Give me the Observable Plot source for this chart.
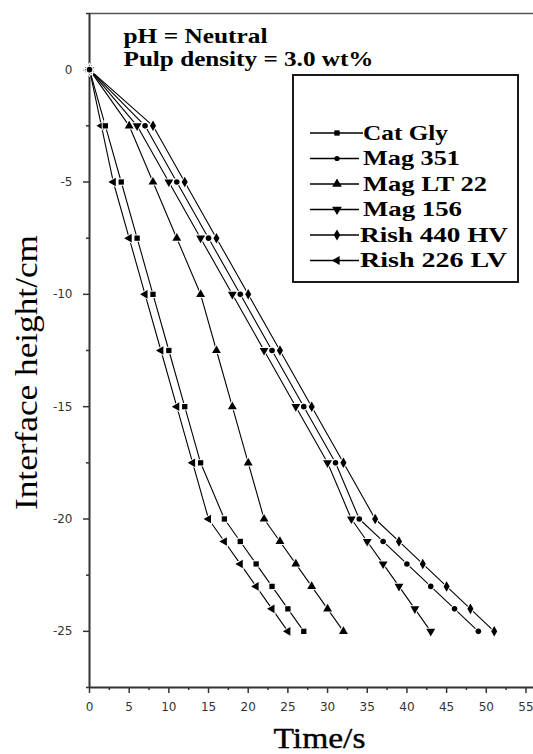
<!DOCTYPE html>
<html>
<head>
<meta charset="utf-8">
<script src="https://cdn.jsdelivr.net/npm/d3@7"></script>
<script src="https://cdn.jsdelivr.net/npm/@observablehq/plot@0.6"></script>
<style>
  html, body { margin: 0; padding: 0; background: white; }
  #wrap { position: relative; width: 533px; height: 754px; }
  #wrap svg { position: absolute; left: 0; top: 0; }
</style>
</head>
<body>
<div id="wrap"></div>
<script>
// ---- data ----
const seriesNames = ["Cat Gly", "Mag 351", "Mag LT 22", "Mag 156", "Rish 440 HV", "Rish 226 LV"];
const heights = [0, -2.5, -5, -7.5, -10, -12.5, -15, -17.5, -20, -21, -22, -23, -24, -25];
const catGly   = [0, 2,   4,  6,  8, 10, 12, 14, 17, 19, 21, 23, 25, 27];
const mag351   = [0, 7,  11, 15, 19, 23, 27, 31, 34, 37, 40, 43, 46, 49];
const magLT22  = [0, 5,   8, 11, 14, 16, 18, 20, 22, 24, 26, 28, 30, 32];
const mag156   = [0, 6,  10, 14, 18, 22, 26, 30, 33, 35, 37, 39, 41, 43];
const rish440  = [0, 8,  12, 16, 20, 24, 28, 32, 36, 39, 42, 45, 48, 51];
const rish226  = [0, 1.5, 3,  5,  7,  9, 11, 13, 15, 17, 19, 21, 23, 25];
const times = [catGly, mag351, magLT22, mag156, rish440, rish226];

const xTicks = [0, 5, 10, 15, 20, 25, 30, 35, 40, 45, 50, 55];
const xMinor = [2.5, 7.5, 12.5, 17.5, 22.5, 27.5, 32.5, 37.5, 42.5, 47.5, 52.5];
const yTicks = [0, -5, -10, -15, -20, -25];
const yMinor = [2.5, -2.5, -7.5, -12.5, -17.5, -22.5, -27.5];

const titleLines = ["pH = Neutral", "Pulp density = 3.0 wt%"];
const xLabel = "Time/s";
const yLabel = "Interface height/cm";

// ---- marker styles ----
const symbolOf = {"Cat Gly": "square", "Mag 351": "circle", "Mag LT 22": "triangle",
                  "Mag 156": "triangle", "Rish 440 HV": "diamond", "Rish 226 LV": "triangle"};
const rotateOf = {"Cat Gly": 0, "Mag 351": 0, "Mag LT 22": 0, "Mag 156": 180, "Rish 440 HV": 0, "Rish 226 LV": -90};
const rOf = {"Cat Gly": 3.0, "Mag 351": 2.6, "Mag LT 22": 3.6, "Mag 156": 3.6, "Rish 440 HV": 3.4, "Rish 226 LV": 3.4};

const data = [];
seriesNames.forEach((s, i) => heights.forEach((h, j) => data.push({series: s, t: times[i][j], h})));

const serif = "'Liberation Serif', 'Times New Roman', serif";

const svg = Plot.plot({
  width: 533,
  height: 754,
  marginLeft: 89,
  marginRight: 0,
  marginTop: 13,
  marginBottom: 67,
  x: {domain: [0, 55.95]},
  y: {domain: [-27.5, 2.5]},
  style: {fontFamily: "'DejaVu Sans', sans-serif", fontSize: "12px", color: "#333", background: "white"},
  marks: [
    Plot.ruleY([2.5], {stroke: "#555", strokeWidth: 1.5}),
    Plot.axisX(xMinor, {tickSize: 3, text: null, strokeWidth: 1.5, stroke: "#333", label: null}),
    Plot.axisX(xTicks, {tickSize: 6, tickPadding: 9, strokeWidth: 1.5, stroke: "#333", tickFormat: d => String(d), label: null}),
    Plot.axisY(yMinor, {tickSize: 3, text: null, strokeWidth: 1.5, stroke: "#333", label: null}),
    Plot.axisY(yTicks, {tickSize: 6, tickPadding: 11, strokeWidth: 1.5, stroke: "#333", tickFormat: d => String(d), label: null}),
    Plot.ruleY([-27.5], {stroke: "#333", strokeWidth: 2}),
    Plot.ruleX([0], {stroke: "#333", strokeWidth: 2}),
    Plot.line(data, {x: "t", y: "h", z: "series", stroke: "black", strokeWidth: 1.1}),
    Plot.dot(data, {x: "t", y: "h", symbol: d => symbolOf[d.series], rotate: d => rotateOf[d.series],
                    r: d => rOf[d.series], fill: "black", stroke: "white", strokeWidth: 2, paintOrder: "stroke"}),
    Plot.text([titleLines[0]], {frameAnchor: "top-left", dx: 34, dy: 29, textAnchor: "start", lineAnchor: "bottom",
                                fontFamily: serif, fontWeight: "bold", fontSize: 21, fill: "black"}),
    Plot.text([titleLines[1]], {frameAnchor: "top-left", dx: 34, dy: 52, textAnchor: "start", lineAnchor: "bottom",
                                fontFamily: serif, fontWeight: "bold", fontSize: 21, fill: "black"}),
    Plot.text([xLabel], {frameAnchor: "bottom", dx: 8, dy: 60, textAnchor: "middle", lineAnchor: "bottom",
                         fontFamily: serif, fontSize: 30, fill: "black", stroke: "black", strokeWidth: 0.4}),
    Plot.text([yLabel], {frameAnchor: "left", dx: -63, dy: 22, rotate: -90, textAnchor: "middle", lineAnchor: "middle",
                         fontFamily: serif, fontSize: 32, fill: "black"})
  ]
});

// stretch the large labels to the widths seen in the reference
const fits = {"pH = Neutral": 144, "Pulp density = 3.0 wt%": 250, "Time/s": 92, "Interface height/cm": 275};
svg.querySelectorAll("text").forEach(t => {
  const w = fits[t.textContent];
  if (w) { t.setAttribute("textLength", w); t.setAttribute("lengthAdjust", "spacingAndGlyphs"); }
});

document.getElementById("wrap").appendChild(svg);

// ---- legend overlay ----
const legendWidths = {"Cat Gly": 85, "Mag 351": 97, "Mag LT 22": 124, "Mag 156": 99, "Rish 440 HV": 148, "Rish 226 LV": 147};
const symType = {square: d3.symbolSquare, circle: d3.symbolCircle, triangle: d3.symbolTriangle, diamond: d3.symbolDiamond};
const lg = d3.select("#wrap").append("svg").attr("width", 533).attr("height", 754);
const box = {x: 293, y: 75, w: 225, h: 207};
lg.append("rect").attr("x", box.x).attr("y", box.y).attr("width", box.w).attr("height", box.h)
  .attr("fill", "white").attr("stroke", "black").attr("stroke-width", 1.8);
seriesNames.forEach((s, i) => {
  const cy = box.y + 58 + i * 25.5;
  const x1 = box.x + 17, x2 = s === "Cat Gly" ? box.x + 70 : box.x + 66;
  const g = lg.append("g");
  g.append("line").attr("x1", x1).attr("x2", x2).attr("y1", cy).attr("y2", cy)
    .attr("stroke", "black").attr("stroke-width", 1.3);
  const r = rOf[s];
  g.append("path").attr("d", d3.symbol(symType[symbolOf[s]], Math.PI * r * r)())
    .attr("transform", `translate(${box.x + 44},${cy}) rotate(${rotateOf[s]})`)
    .attr("fill", "black");
  g.append("text").attr("x", s.startsWith("Rish") ? box.x + 67 : box.x + 70).attr("y", cy + 6.5)
    .attr("font-family", serif).attr("font-weight", "bold").attr("font-size", 22)
    .attr("textLength", legendWidths[s]).attr("lengthAdjust", "spacingAndGlyphs")
    .text(s);
});
</script>
</body>
</html>
